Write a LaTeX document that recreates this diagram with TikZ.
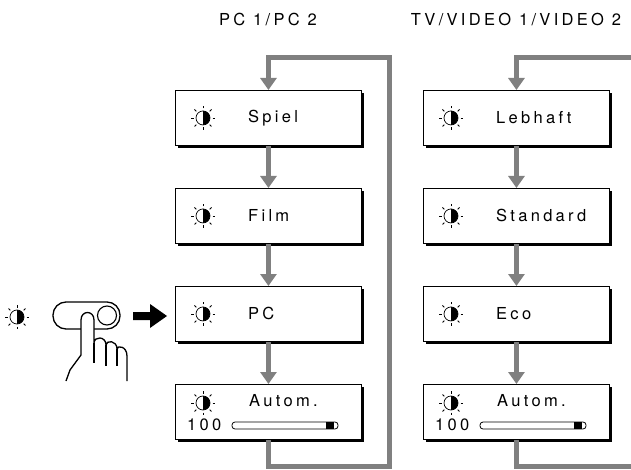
\documentclass[tikz,border=0pt]{standalone}
\usepackage{fontspec}
\setmainfont{TeX Gyre Heros}[LetterSpace=20]
\usetikzlibrary{arrows.meta,shadows}
\definecolor{flowgray}{gray}{0.5}
\tikzset{
    menubox/.style={draw=black, line width=0.9pt, fill=white, anchor=north west,
        minimum width=186pt, minimum height=55pt, inner sep=0pt,
        drop shadow={shadow xshift=3pt, shadow yshift=-3pt, fill=black, opacity=1}},
    flow/.style={draw=flowgray, line width=5pt, -{Triangle[width=16pt,length=12pt]}},
    flowline/.style={draw=flowgray, line width=5pt},
    boxtext/.style={anchor=west, inner sep=0pt, font=\fontsize{16.5}{19}\selectfont},
    sun/.pic={
        \draw[fill=white, line width=0.7pt] (0,0) circle (7pt);
        \fill (0pt,-7pt) arc (-90:90:7pt) -- cycle;
        \foreach \a in {0,45,...,315} \draw[line width=0.8pt] (\a:9.5pt) -- (\a:12pt);
    }
}
\begin{document}
\begin{tikzpicture}[x=1pt, y=-1pt]
    \useasboundingbox (0,0) rectangle (631,470);

    %headers
    \node[font=\fontsize{16.5}{19}\selectfont] (pchead) at (268,20) {PC 1/PC 2};
    \node[font=\fontsize{16.5}{19}\selectfont] (tvhead) at (516,20) {TV/VIDEO 1/VIDEO 2};

    %PC modes
    \node[menubox] (spiel) at (175,90) {};
    \node[menubox] (film) at (175,188) {};
    \node[menubox] (pc) at (175,286) {};
    \node[menubox] (automa) at (175,384) {};

    %TV/VIDEO modes
    \node[menubox] (lebhaft) at (423,90) {};
    \node[menubox] (standard) at (423,188) {};
    \node[menubox] (eco) at (423,286) {};
    \node[menubox] (automb) at (423,384) {};

    %labels of the plain boxes
    \foreach \b/\t in {spiel/Spiel, film/Film, pc/PC, lebhaft/Lebhaft, standard/Standard, eco/Eco} {
        \pic at ([xshift=28pt]\b.west) {sun};
        \node[boxtext] at ([xshift=73pt]\b.west) {\t};
    }

    %Autom. boxes with slider
    \foreach \b in {automa, automb} {
        \pic at ([shift={(28,19)}]\b.north west) {sun};
        \node[boxtext] at ([shift={(74,17)}]\b.north west) {Autom.};
        \node[boxtext] at ([shift={(12,41)}]\b.north west) {100};
        \draw[line width=0.8pt, fill=white, rounded corners=3pt]
            ([shift={(57,38)}]\b.north west) rectangle ([shift={(163,45)}]\b.north west);
        \fill ([shift={(151,38)}]\b.north west) rectangle ([shift={(159,45)}]\b.north west);
    }

    %arrows between the boxes
    \draw[flow] (spiel.south) -- (film.north);
    \draw[flow] (film.south) -- (pc.north);
    \draw[flow] (pc.south) -- (automa.north);
    \draw[flow] (lebhaft.south) -- (standard.north);
    \draw[flow] (standard.south) -- (eco.north);
    \draw[flow] (eco.south) -- (automb.north);

    %loop back for PC
    \draw[flow] (automa.south) -- ++(0,27) -| (389,58) -| (spiel.north);

    %loop for TV/VIDEO
    \coordinate (tvin) at (631,58);
    \coordinate (tvout) at (631,466);
    \draw[flow] (tvin) -| (lebhaft.north);
    \draw[flowline] (automb.south) |- (tvout);

    %button and hand
    \pic at (17,317) {sun};
    \draw[line width=1.3pt, rounded corners=13pt] (53,302) rectangle (120,329);
    \draw[line width=1.1pt] (107,315.5) circle (9.5);
    \filldraw[fill=white, line width=1.3pt, line join=round]
        (66,381) -- (70,370) -- (81,355) -- (81,320)
        .. controls (81,310) and (94,310) .. (94,320) -- (94,343)
        .. controls (94,336) and (106,336) .. (106,345)
        .. controls (106,340) and (117,340) .. (117,349)
        .. controls (117,345) and (127,346) .. (127,356) -- (127,381);
    \draw[line width=1.1pt] (94,343) -- (94,363);
    \draw[line width=1.1pt] (106,345) -- (106,366);
    \draw[line width=1.1pt] (117,349) -- (117,366);

    %black arrow to the PC box
    \fill (133,312) -- (150,312) -- (150,304) -- (167,316) -- (150,328) -- (150,320) -- (133,320) -- cycle;
\end{tikzpicture}
\end{document}
